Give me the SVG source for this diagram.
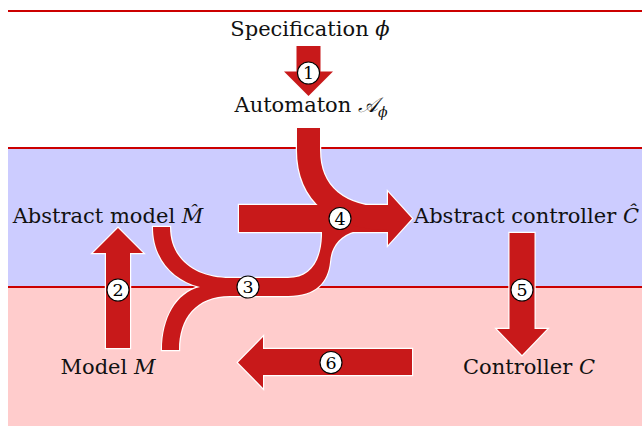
<svg xmlns="http://www.w3.org/2000/svg" width="642" height="426" viewBox="0 0 642 426">
<style>
text{font-family:"DejaVu Serif",serif;}
.lbl{font-size:21px;fill:#111;}
.num{font-size:17.5px;fill:#000;text-anchor:middle;}
.it{font-style:italic;}
.sep{stroke:#cc0000;stroke-width:1.8;fill:none;}
.wo{fill:#fff;stroke:#fff;stroke-width:2.4;stroke-linejoin:miter;}
.rf{fill:#c8191a;stroke:none;}
.circ{fill:#fff;stroke:#000;stroke-width:1.1;}
</style>
<defs>
<path id="p1" d="M296.5,46 H320.5 V71.5 H333 L308.5,96 L284,71.5 H296.5 Z"/>
<path id="p2" d="M106,348 V253 H93 L118,228 L143,253 H130 V348 Z"/>
<path id="p3" d="M153,227 C153,258 172,280 200,287 C176,293 162,318 162,350 H179 C179,318 196,296 230,296 H288 C316,296 328,282 330,262 C331,248 338,236 356,231 L356,220 L322,220 L322,236 C321,262 310,278 288,278 H230 C196,278 170,260 170,227 Z"/>
<path id="p4" d="M239,205 H388 V192 L412,218.5 L388,245 V232 H239 Z"/>
<path id="p4c" d="M308.5,128 V150 C308.5,195 340,218.5 388,218.5"/>
<path id="p5" d="M509.5,233 H534.5 V329 H547 L522,355 L497,329 H509.5 Z"/>
<path id="p6" d="M412,349 V375 H263 V388 L238,362.5 L263,337 V349 Z"/>
</defs>
<g id="background">
<rect x="8" y="148" width="634" height="139" fill="#ccccff"/>
<rect x="8" y="287" width="634" height="139" fill="#ffcccc"/>
<line class="sep" x1="8" y1="11" x2="642" y2="11"/>
<line class="sep" x1="8" y1="148" x2="642" y2="148"/>
<line class="sep" x1="8" y1="287" x2="642" y2="287"/>
</g>
<g id="connectors">
<g id="outlines">
<use href="#p1" class="wo"/>
<use href="#p2" class="wo"/>
<use href="#p3" class="wo"/>
<use href="#p4" class="wo"/>
<use href="#p4c" fill="none" stroke="#fff" stroke-width="25.5"/>
<use href="#p5" class="wo"/>
<use href="#p6" class="wo"/>
</g>
<g id="fills">
<use href="#p1" class="rf"/>
<use href="#p2" class="rf"/>
<use href="#p3" class="rf"/>
<use href="#p4" class="rf"/>
<use href="#p4c" fill="none" stroke="#c8191a" stroke-width="23"/>
<use href="#p5" class="rf"/>
<use href="#p6" class="rf"/>
</g>
<g id="step1"><circle class="circ" cx="308.5" cy="73" r="11"/><text class="num" x="308.5" y="79.2">1</text></g>
<g id="step2"><circle class="circ" cx="118" cy="290" r="11"/><text class="num" x="118" y="296.2">2</text></g>
<g id="step3"><circle class="circ" cx="248" cy="287" r="11"/><text class="num" x="248" y="293.2">3</text></g>
<g id="step4"><circle class="circ" cx="340" cy="218.5" r="11"/><text class="num" x="340" y="224.7">4</text></g>
<g id="step5"><circle class="circ" cx="522" cy="290" r="11"/><text class="num" x="522" y="296.2">5</text></g>
<g id="step6"><circle class="circ" cx="331" cy="362.5" r="11"/><text class="num" x="331" y="368.7">6</text></g>
</g>
<g id="spec"><text class="lbl" x="310" y="36" text-anchor="middle">Specification <tspan class="it">ϕ</tspan></text></g>
<g id="automaton"><text class="lbl" x="311" y="112" text-anchor="middle">Automaton <tspan class="it">𝒜</tspan><tspan class="it" font-size="14" dy="5">ϕ</tspan></text></g>
<g id="abstract-model"><text class="lbl" x="108" y="223" text-anchor="middle">Abstract model <tspan class="it">M̂</tspan></text></g>
<g id="abstract-controller"><text class="lbl" x="414" y="223">Abstract controller <tspan class="it">Ĉ</tspan></text></g>
<g id="model"><text class="lbl" x="108" y="374" text-anchor="middle">Model <tspan class="it">M</tspan></text></g>
<g id="controller"><text class="lbl" x="529" y="374" text-anchor="middle">Controller <tspan class="it">C</tspan></text></g>
</svg>
